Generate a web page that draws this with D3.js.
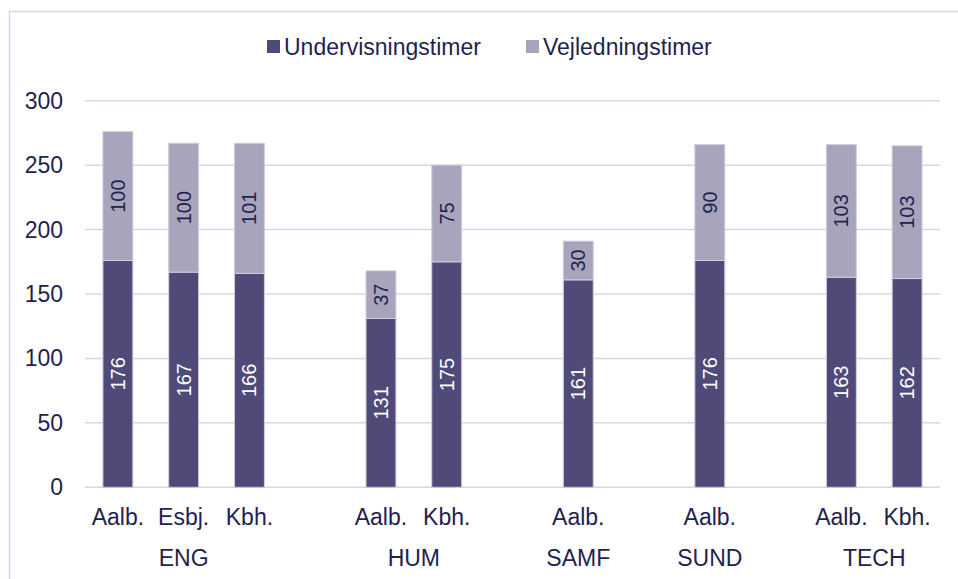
<!DOCTYPE html>
<html>
<head>
<meta charset="utf-8">
<script src="https://cdn.jsdelivr.net/npm/d3@7"></script>
<style>
  body { margin: 0; background: #fff; }
  svg { display: block; font-family: "Liberation Sans", Arial, sans-serif; }
</style>
</head>
<body>
<svg id="chart" width="958" height="579"></svg>
<script>
// data
const slots = ['ENG|Aalb.', 'ENG|Esbj.', 'ENG|Kbh.', 'gap1', 'HUM|Aalb.', 'HUM|Kbh.', 'gap2',
               'SAMF|Aalb.', 'gap3', 'SUND|Aalb.', 'gap4', 'TECH|Aalb.', 'TECH|Kbh.'];
const bars = ['ENG|Aalb.', 'ENG|Esbj.', 'ENG|Kbh.', 'HUM|Aalb.', 'HUM|Kbh.', 'SAMF|Aalb.', 'SUND|Aalb.', 'TECH|Aalb.', 'TECH|Kbh.'];
const undervisning = [176, 167, 166, 131, 175, 161, 176, 163, 162];
const vejledning   = [100, 100, 101, 37, 75, 30, 90, 103, 103];
const groups = ['ENG', 'HUM', 'SAMF', 'SUND', 'TECH'];
const seriesNames = ['Undervisningstimer', 'Vejledningstimer'];
const yTicks = [0, 50, 100, 150, 200, 250, 300];

const colors = ['#4f4a77', '#a8a4bc'];
const textCol = '#231f50';
const gridCol = '#d8d4f0';

const svg = d3.select('#chart');

// outer frame (extends beyond the picture right and bottom)
svg.append('rect')
  .attr('x', 9.5).attr('y', 11.5).attr('width', 1000).attr('height', 600)
  .attr('fill', '#fff').attr('stroke', gridCol).attr('stroke-width', 1.5);

const x = d3.scaleBand().domain(slots).range([85, 940]).paddingInner(0.545).paddingOuter(0.2725);
const y = d3.scaleLinear().domain([0, 300]).range([487.3, 100.7]);

// gridlines
svg.append('g').selectAll('line').data(yTicks).join('line')
  .attr('x1', 85).attr('x2', 940)
  .attr('y1', d => y(d)).attr('y2', d => y(d))
  .attr('stroke', gridCol).attr('stroke-width', 1.5);

// y axis labels
svg.append('g').selectAll('text').data(yTicks).join('text')
  .attr('x', 63).attr('y', d => y(d)).attr('dy', '0.35em')
  .attr('text-anchor', 'end').attr('font-size', 23).attr('fill', textCol)
  .text(d => d);

// stacked bars
const rows = bars.map((k, i) => ({ key: k, Undervisningstimer: undervisning[i], Vejledningstimer: vejledning[i] }));
const stacked = d3.stack().keys(seriesNames)(rows);

const layer = svg.append('g').selectAll('g').data(stacked).join('g')
  .attr('fill', (d, i) => colors[i]);

layer.selectAll('rect').data(d => d).join('rect')
  .attr('x', d => x(d.data.key))
  .attr('width', x.bandwidth())
  .attr('y', d => y(d[1]))
  .attr('height', d => y(d[0]) - y(d[1]))
  .attr('stroke', '#d0cde0').attr('stroke-width', 1);

// value labels, rotated
stacked.forEach((s, si) => {
  svg.append('g').selectAll('text').data(s).join('text')
    .attr('transform', d => `translate(${x(d.data.key) + x.bandwidth() / 2},${(y(d[0]) + y(d[1])) / 2}) rotate(-90)`)
    .attr('text-anchor', 'middle').attr('dy', '0.35em')
    .attr('font-size', 20)
    .attr('fill', si === 0 ? '#fff' : textCol)
    .text(d => d[1] - d[0]);
});

// category labels
svg.append('g').selectAll('text').data(bars).join('text')
  .attr('x', d => x(d) + x.bandwidth() / 2).attr('y', 517).attr('dy', '0.35em')
  .attr('text-anchor', 'middle').attr('font-size', 23).attr('fill', textCol)
  .text(d => d.split('|')[1]);

// group labels
svg.append('g').selectAll('text').data(groups).join('text')
  .attr('x', g => {
    const ks = bars.filter(b => b.startsWith(g + '|'));
    return d3.mean(ks, k => x(k) + x.bandwidth() / 2);
  })
  .attr('y', 558).attr('dy', '0.35em')
  .attr('text-anchor', 'middle').attr('font-size', 23).attr('fill', textCol)
  .text(d => d);

// legend
const legend = svg.append('g');
const legX = [267, 526];
seriesNames.forEach((n, i) => {
  legend.append('rect').attr('x', legX[i]).attr('y', 40).attr('width', 13).attr('height', 13).attr('fill', colors[i]);
  legend.append('text').attr('x', legX[i] + 17).attr('y', 46.5).attr('dy', '0.35em')
    .attr('font-size', 23).attr('fill', textCol).text(n);
});
</script>
</body>
</html>
